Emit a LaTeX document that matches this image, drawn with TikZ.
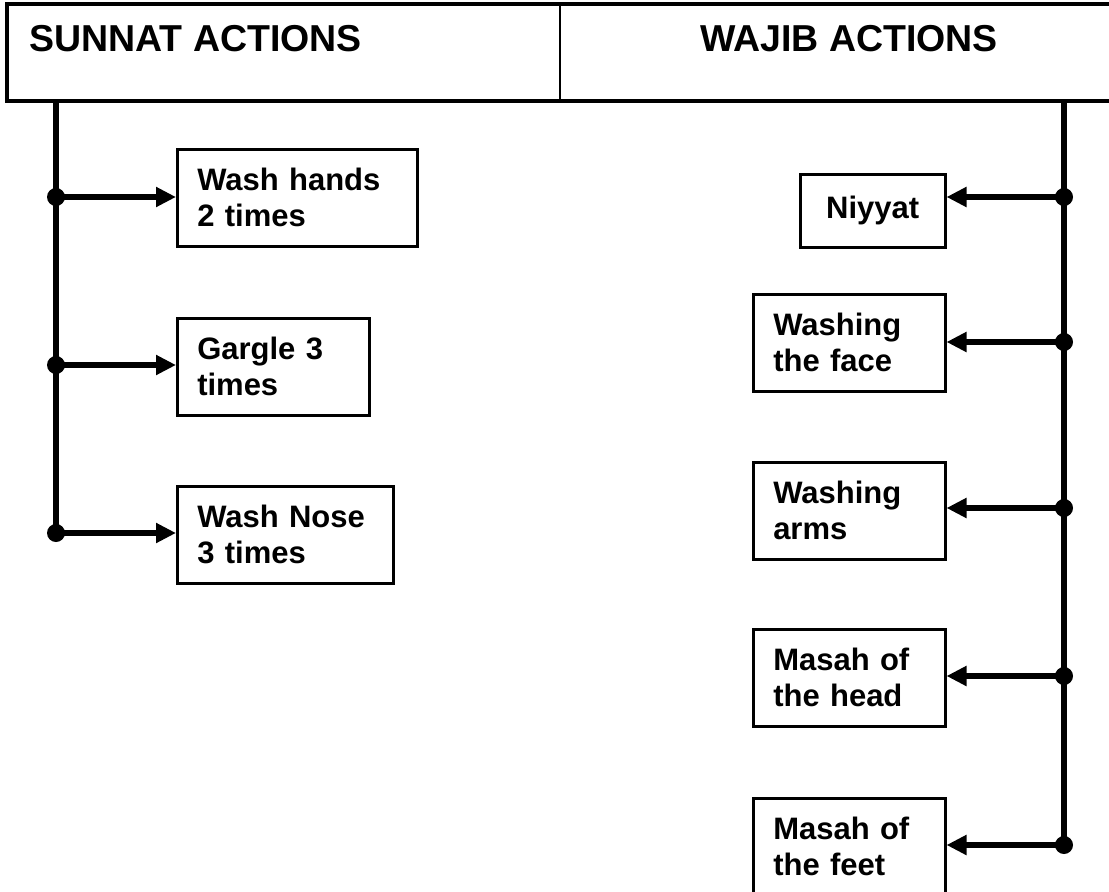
\documentclass[tikz,border=0pt]{standalone}
\usepackage{fontspec}
\setmainfont{Liberation Sans}
\usetikzlibrary{arrows.meta}

\tikzset{
  headtext/.style={font=\fontsize{37.5}{42}\selectfont\bfseries, inner sep=0pt},
  actbox/.style={draw, line width=2.5pt, anchor=north west, minimum height=97pt,
    inner xsep=20pt, inner ysep=0pt, align=left,
    font=\fontsize{31}{36}\selectfont\bfseries},
  trunk/.style={line width=6pt},
  link/.style={line width=6pt, -{Triangle[length=20pt,width=19pt]}},
}

\begin{document}
\begin{tikzpicture}[x=1pt, y=-1pt]
  \useasboundingbox (0,0) rectangle (1109,892);

  % header row
  \draw[line width=3.5pt] (7,4) rectangle (1130,101);
  \draw[line width=2.5pt] (560,4) -- (560,101);
  \node[headtext, anchor=base west] (sunnat) at (29,51) {SUNNAT ACTIONS};
  \node[headtext, anchor=base] (wajib) at (849,51) {WAJIB ACTIONS};

  % sunnat boxes
  \node[actbox, text width=200pt] (hands) at (176,148) {Wash hands\\2 times};
  \node[actbox, text width=152pt] (gargle) at (176,317) {Gargle 3\\times};
  \node[actbox, text width=176pt] (nose) at (176,485) {Wash Nose\\3 times};

  % wajib boxes
  \node[actbox, text width=105pt, minimum height=73pt, align=center] (niyyat) at (799,173) {Niyyat};
  \node[actbox, text width=152pt] (face) at (752,293) {Washing\\the face};
  \node[actbox, text width=152pt] (arms) at (752,461) {Washing\\arms};
  \node[actbox, text width=152pt] (head) at (752,628) {Masah of\\the head};
  \node[actbox, text width=152pt] (feet) at (752,797) {Masah of\\the feet};

  % trunk points
  \coordinate (sTop) at (56,101);
  \coordinate (s1) at (56,197);
  \coordinate (s2) at (56,365);
  \coordinate (s3) at (56,533);
  \coordinate (wTop) at (1064,101);
  \coordinate (w1) at (1064,197);
  \coordinate (w2) at (1064,342);
  \coordinate (w3) at (1064,508);
  \coordinate (w4) at (1064,676);
  \coordinate (w5) at (1064,845);

  % trunks
  \draw[trunk] (sTop) -- (s3);
  \draw[trunk] (wTop) -- (w5);

  % arrows
  \draw[link] (s1) -- (s1 -| hands.west);
  \draw[link] (s2) -- (s2 -| gargle.west);
  \draw[link] (s3) -- (s3 -| nose.west);
  \draw[link] (w1) -- (w1 -| niyyat.east);
  \draw[link] (w2) -- (w2 -| face.east);
  \draw[link] (w3) -- (w3 -| arms.east);
  \draw[link] (w4) -- (w4 -| head.east);
  \draw[link] (w5) -- (w5 -| feet.east);

  % junction dots
  \foreach \p in {s1,s2,s3,w1,w2,w3,w4,w5}
    \fill (\p) circle (9pt);

\end{tikzpicture}
\end{document}
